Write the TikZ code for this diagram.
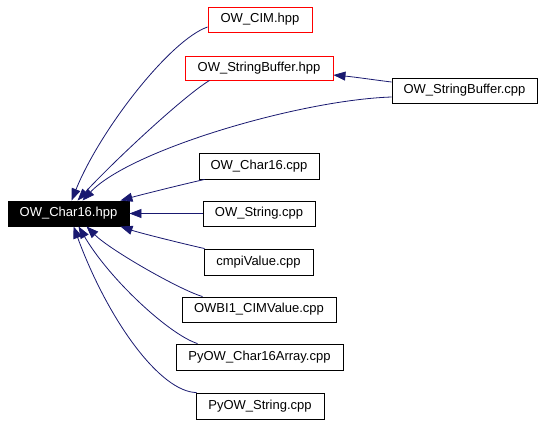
\documentclass[tikz,border=0pt]{standalone}
\usepackage{fontspec}
\setmainfont{Liberation Sans}
\usetikzlibrary{arrows.meta}
\definecolor{edgeblue}{HTML}{191970}
\tikzset{
  filebox/.style={draw=black, line width=0.9pt, inner sep=0pt, minimum height=25pt, font=\fontsize{13}{15}\selectfont, text=black},
  redbox/.style={filebox, draw=red},
  mainbox/.style={filebox, fill=black, text=white},
  dep/.style={draw=edgeblue, line width=0.8pt, {Triangle[length=12pt,width=9pt]}-, fill=none},
}
\begin{document}
\begin{tikzpicture}[x=1pt,y=-1pt]
\useasboundingbox (0,0) rectangle (544,424);
\node[mainbox, minimum width=121pt] (hpp) at (68.5,213.5) {OW\_Char16.hpp};
\node[redbox, minimum width=104pt] (cim) at (260,19.5) {OW\_CIM.hpp};
\node[redbox, minimum width=148pt, minimum height=24pt] (sbh) at (259,68) {OW\_StringBuffer.hpp};
\node[filebox, minimum width=145pt] (sbc) at (464.5,90.5) {OW\_StringBuffer.cpp};
\node[filebox, minimum width=120pt, minimum height=26pt] (c16) at (259,166) {OW\_Char16.cpp};
\node[filebox, minimum width=112pt] (str) at (259,213.5) {OW\_String.cpp};
\node[filebox, minimum width=109pt, minimum height=26pt] (cmpi) at (258.5,262) {cmpiValue.cpp};
\node[filebox, minimum width=154pt] (bi1) at (259,309.5) {OWBI1\_CIMValue.cpp};
\node[filebox, minimum width=167pt, minimum height=26pt] (c16a) at (259.5,357) {PyOW\_Char16Array.cpp};
\node[filebox, minimum width=128pt, minimum height=26pt] (pys) at (260,406) {PyOW\_String.cpp};

% edges (arrow at the OW_Char16.hpp end)
\draw[dep] ([xshift=64pt]hpp.north west) .. controls (100,130) and (170,40) .. ([yshift=-7.5pt]cim.west);
\draw[dep] ([xshift=70pt]hpp.north west) .. controls (115,160) and (185,95) .. ([xshift=25pt]sbh.south west);
\draw[dep] ([xshift=75pt]hpp.north west) .. controls (130,150) and (300,100) .. ([yshift=-6.5pt]sbc.west);
\draw[dep] ([xshift=-9pt]hpp.north east) .. controls (140,195) and (180,185) .. ([xshift=6pt]c16.south west);
\draw[dep] (hpp.east) -- (str.west);
\draw[dep] ([xshift=-9pt]hpp.south east) .. controls (140,233) and (180,243) .. ([xshift=1pt]cmpi.north west);
\draw[dep] ([xshift=79pt]hpp.south west) .. controls (110,250) and (180,290) .. ([xshift=21pt]bi1.north west);
\draw[dep] ([xshift=71pt]hpp.south west) .. controls (110,280) and (170,335) .. ([xshift=22pt]c16a.north west);
\draw[dep] ([xshift=66pt]hpp.south west) .. controls (108,320) and (160,392) .. ([xshift=1pt]pys.north west);
% StringBuffer.cpp -> StringBuffer.hpp
\draw[dep] ([yshift=-7pt]sbh.east) .. controls (355,77) and (375,80) .. ([yshift=8.5pt]sbc.west);
\end{tikzpicture}
\end{document}
